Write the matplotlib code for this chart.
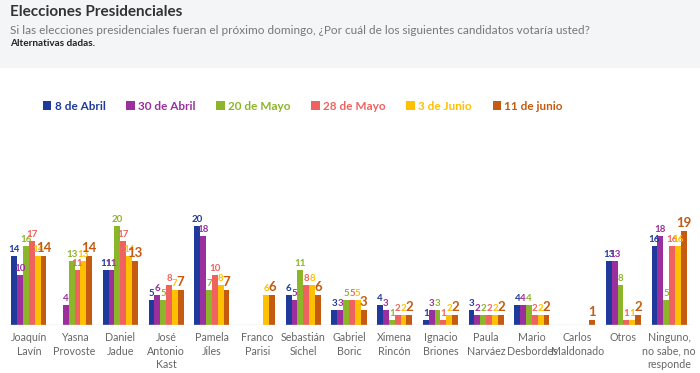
import numpy as np
import matplotlib.pyplot as plt
from matplotlib.patches import Patch, Rectangle

plt.rcParams['font.family'] = ['Lato', 'DejaVu Sans']

candidates = ['Joaquín\nLavín', 'Yasna\nProvoste', 'Daniel\nJadue', 'José\nAntonio\nKast',
              'Pamela\nJiles', 'Franco\nParisi', 'Sebastián\nSichel', 'Gabriel\nBoric',
              'Ximena\nRincón', 'Ignacio\nBriones', 'Paula\nNarváez', 'Mario\nDesbordes',
              'Carlos\nMaldonado', 'Otros', 'Ninguno,\nno sabe, no\nresponde']
series = ['8 de Abril', '30 de Abril', '20 de Mayo', '28 de Mayo', '3 de Junio', '11 de junio']
colors = ['#1f3a9a', '#9b2f9d', '#8db52a', '#f0625f', '#ffc000', '#c55a11']

abr_8 = [14, None, 11, 5, 20, None, 6, 3, 4, 1, 3, 4, None, 13, 16]
abr_30 = [10, 4, 11, 6, 18, None, 5, 3, 3, 3, 2, 4, None, 13, 18]
may_20 = [16, 13, 20, 5, 7, None, 11, 5, 1, 3, 2, 4, None, 8, 5]
may_28 = [17, 11, 17, 8, 10, None, 8, 5, 2, 1, 2, 2, None, 1, 16]
jun_3 = [14, 13, 14, 7, 8, 6, 8, 5, 2, 2, 2, 2, None, 1, 16]
jun_11 = [14, 14, 13, 7, 7, 6, 6, 3, 2, 2, 2, 2, 1, 2, 19]
values = [abr_8, abr_30, may_20, may_28, jun_3, jun_11]

fig = plt.figure(figsize=(7, 3.73), dpi=100)
fig.patches.append(Rectangle((0, 1 - 68 / 373), 1, 68 / 373, transform=fig.transFigure,
                             facecolor='#f4f5f7', edgecolor='none', zorder=0))

fig.text(10 / 700, 1 - 12 / 373, 'Elecciones Presidenciales', fontsize=11, fontweight='bold',
         color='#333333', va='center')
fig.text(10 / 700, 1 - 30 / 373,
         'Si las elecciones presidenciales fueran el próximo domingo, ¿Por cuál de los siguientes candidatos votaría usted?',
         fontsize=8.5, color='#777777', va='center')
fig.text(10 / 700, 1 - 44 / 373, 'Alternativas dadas.', fontsize=7.2, fontweight='bold',
         color='#222222', va='center')

ax = fig.add_axes([6 / 700, 48 / 373, 686 / 700, 119 / 373])
x = np.arange(len(candidates))
w = 0.128
for i, (vals, c) in enumerate(zip(values, colors)):
    offs = (i - 2.5) * w
    for j, v in enumerate(vals):
        if v is None:
            continue
        ax.bar(x[j] + offs, v, width=w, color=c)
        big = i == len(values) - 1
        ax.text(x[j] + offs, v + 0.4, str(v), ha='center', va='bottom', color=c,
                fontsize=9.5 if big else 7, fontweight='bold')

ax.set_xlim(-0.5, len(candidates) - 0.5)
ax.set_ylim(0, 24)
ax.axhline(0, color='#d9d9d9', lw=1)
for s in ax.spines.values():
    s.set_visible(False)
ax.set_yticks([])
ax.set_xticks(x)
ax.set_xticklabels(candidates, fontsize=7.7, color='#666666', linespacing=1.3, va='top')
ax.tick_params(axis='x', length=0, pad=5)

handles = [Patch(facecolor=c) for c in colors]
fig.legend(handles, series, loc='center', bbox_to_anchor=(303 / 700, 1 - 106 / 373), ncol=6,
           frameon=False, labelcolor=colors, prop={'weight': 'bold', 'size': 8.5},
           handlelength=0.7, handleheight=0.7, handletextpad=0.3, columnspacing=1.75)

fig.savefig('out.png', dpi=100)
